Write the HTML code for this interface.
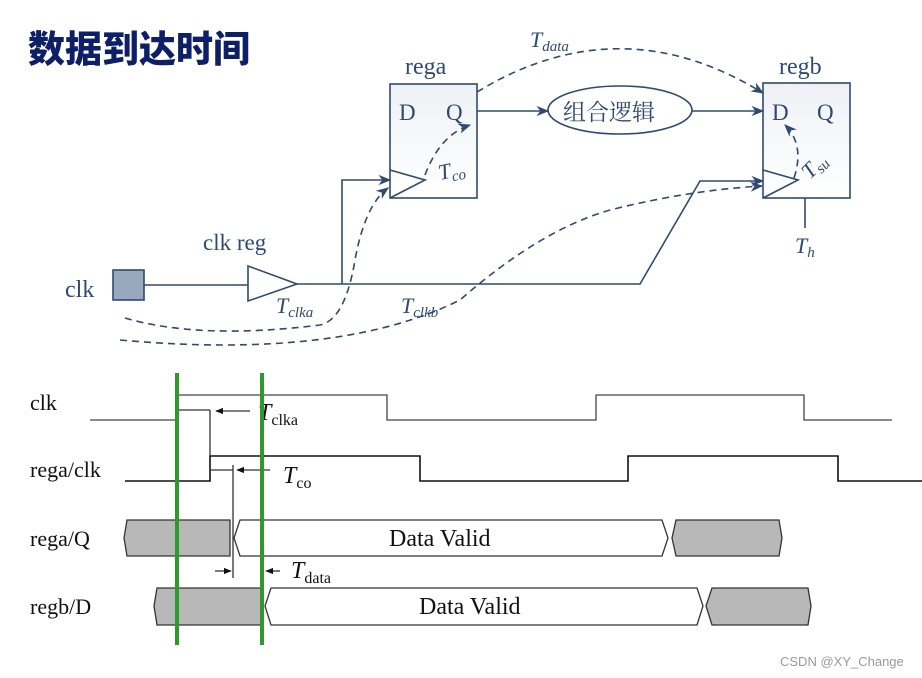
<!DOCTYPE html>
<html><head><meta charset="utf-8"><style>
html,body{margin:0;padding:0;background:#fff;}
svg{display:block}
</style></head><body>
<svg width="922" height="678" viewBox="0 0 922 678" xmlns="http://www.w3.org/2000/svg">
<defs>
<marker id="ar" viewBox="0 0 10 10" refX="9" refY="5" markerWidth="8" markerHeight="8" orient="auto-start-reverse"><path d="M0,1 L10,5 L0,9 L3,5z" fill="#2f4a72"/></marker>
<marker id="ak" viewBox="0 0 10 10" refX="9" refY="5" markerWidth="6" markerHeight="6" orient="auto"><path d="M0,1 L10,5 L0,9z" fill="#111"/></marker>
<linearGradient id="bg" x1="0" y1="0" x2="0" y2="1"><stop offset="0" stop-color="#eef1f5"/><stop offset="1" stop-color="#fff"/></linearGradient>
</defs>
<text x="28" y="62" font-family="Noto Sans CJK SC, sans-serif" font-weight="900" font-size="37" fill="#0d1f66">数据到达时间</text>

<g stroke="#2f4a72" stroke-width="1.6" fill="none">
<rect x="390" y="84" width="87" height="114" fill="url(#bg)"/>
<rect x="763" y="83" width="87" height="115" fill="url(#bg)"/>
<path d="M390,170 L425,180 L390,198"/>
<path d="M763,170 L798,180 L763,198"/>
<ellipse cx="620" cy="110" rx="72" ry="24"/>
<path d="M477,111 L548,111" marker-end="url(#ar)"/>
<path d="M692,111 L763,111" marker-end="url(#ar)"/>
<rect x="113" y="270" width="31" height="30" fill="#9aa8bd"/>
<path d="M144,285 L248,285"/>
<path d="M248,266 L297,284 L248,301z"/>
<path d="M297,284 L640,284 L700,181 L763,181" marker-end="url(#ar)"/>
<path d="M342,284 L342,180 L390,180" marker-end="url(#ar)"/>
<path d="M805,198 L805,228"/>
<g stroke-dasharray="7,5">
<path d="M477,92 Q620,5 763,93" marker-end="url(#ar)"/>
<path d="M425,175 Q440,135 470,125" marker-end="url(#ar)"/>
<path d="M125,318 Q200,340 320,325 Q345,320 355,260 Q365,205 388,188" marker-end="url(#ar)"/>
<path d="M120,340 Q340,360 460,300 Q540,230 610,210 Q690,190 762,186" marker-end="url(#ar)"/>
<path d="M794,178 Q805,145 785,125" marker-end="url(#ar)"/>
</g>
</g>

<g font-family="Liberation Serif, serif" fill="#2f4a72" stroke="none">
<text x="405" y="74" font-size="24">rega</text>
<text x="779" y="74" font-size="24">regb</text>
<text x="203" y="250" font-size="23">clk reg</text>
<text x="65" y="297" font-size="24">clk</text>
<text x="399" y="120" font-size="23">D</text>
<text x="446" y="120" font-size="23">Q</text>
<text x="772" y="120" font-size="23">D</text>
<text x="817" y="120" font-size="23">Q</text>
<text x="530" y="47" font-size="22" font-style="italic">T<tspan font-size="15" dy="4">data</tspan></text>
<text x="440" y="180" font-size="22" font-style="italic" transform="rotate(-12 440 180)">T<tspan font-size="15" dy="4">co</tspan></text>
<text x="810" y="180" font-size="22" font-style="italic" transform="rotate(-45 810 180)">T<tspan font-size="15" dy="4">su</tspan></text>
<text x="795" y="253" font-size="22" font-style="italic">T<tspan font-size="15" dy="4">h</tspan></text>
<text x="276" y="313" font-size="22" font-style="italic">T<tspan font-size="15" dy="4">clka</tspan></text>
<text x="401" y="313" font-size="22" font-style="italic">T<tspan font-size="15" dy="4">clkb</tspan></text>
<text x="563" y="120" font-size="23" font-family="Noto Serif CJK SC, serif">组合逻辑</text>
</g>

<g font-family="Liberation Serif, serif" fill="#111" font-size="22">
<text x="30" y="410">clk</text>
<text x="30" y="477">rega/clk</text>
<text x="30" y="546">rega/Q</text>
<text x="30" y="614">regb/D</text>
<text x="258" y="420" font-size="24" font-style="italic">T<tspan font-size="16" font-style="normal" dy="5">clka</tspan></text>
<text x="283" y="483" font-size="24" font-style="italic">T<tspan font-size="16" font-style="normal" dy="5">co</tspan></text>
<text x="291" y="578" font-size="24" font-style="italic">T<tspan font-size="16" font-style="normal" dy="5">data</tspan></text>
</g>
<g stroke="#333" stroke-width="1.3" fill="none">
<path d="M90,420 L178,420 L178,395 L387,395 L387,420 L596,420 L596,395 L804,395 L804,420 L892,420" stroke="#444"/>
<path d="M125,481 L210,481 L210,456 L420,456 L420,481 L628,481 L628,456 L838,456 L838,481 L922,481" stroke="#111" stroke-width="1.6"/>
<path d="M178,410 L210,410"/><path d="M210,410 L210,456"/>
<path d="M250,411 L216,411" marker-end="url(#ak)"/>
<path d="M210,470 L233,470"/><path d="M233,465 L233,578"/>
<path d="M270,470 L237,470" marker-end="url(#ak)"/>
<path d="M215,571 L231,571" marker-end="url(#ak)"/>
<path d="M280,571 L266,571" marker-end="url(#ak)"/>
<path d="M127,520 L230,520 L230,556 L127,556 L124,538z" fill="#b8b8b8"/>
<path d="M240,520 L662,520 L668,538 L662,556 L240,556 L234,538z" fill="#fff"/>
<path d="M676,520 L779,520 L782,538 L779,556 L676,556 L672,538z" fill="#b8b8b8"/>
<path d="M157,588 L262,588 L262,625 L157,625 L154,606z" fill="#b8b8b8"/>
<path d="M271,588 L697,588 L703,606 L697,625 L271,625 L265,606z" fill="#fff"/>
<path d="M712,588 L808,588 L811,606 L808,625 L712,625 L706,606z" fill="#b8b8b8"/>
</g>
<g font-family="Liberation Serif, serif" fill="#111" font-size="24">
<text x="389" y="546">Data Valid</text>
<text x="419" y="614">Data Valid</text>
</g>
<rect x="175" y="373" width="4" height="272" fill="#2e9a2e"/>
<rect x="260" y="373" width="4" height="272" fill="#2e9a2e"/>
<text x="780" y="666" font-family="Liberation Sans, sans-serif" font-size="13" fill="#999">CSDN @XY_Change</text>
</svg>
</body></html>
